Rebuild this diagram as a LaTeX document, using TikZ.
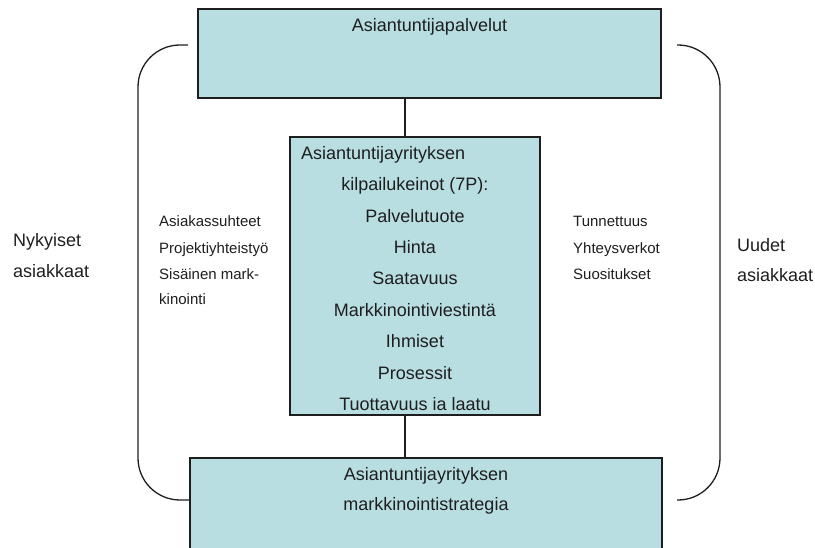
\documentclass[tikz,border=0pt]{standalone}
\usepackage{fontspec}
\setmainfont{Liberation Sans}
\definecolor{boxfill}{RGB}{184,222,225}
\definecolor{ink}{RGB}{30,30,30}
\begin{document}
\begin{tikzpicture}[x=1pt,y=-1pt,
  box/.style={draw=ink,line width=2pt,fill=boxfill,inner sep=0pt},
  big/.style={font=\fontsize{18}{20}\selectfont,text=ink,inner sep=0pt,anchor=base},
  bigw/.style={big,anchor=base west},
  small/.style={font=\fontsize{15}{17}\selectfont,text=ink,inner sep=0pt,anchor=base west},
  link/.style={draw=ink,line width=1.8pt},
  brace/.style={draw=ink,line width=1.3pt,rounded corners=42pt}]
\useasboundingbox (0,0) rectangle (815,548);
\clip (0,0) rectangle (815,548);
% boxes
\node[box,minimum width=463pt,minimum height=89pt] (top) at (429.5,53.5) {};
\node[box,minimum width=250pt,minimum height=278pt] (mid) at (415,276) {};
\node[box,minimum width=472pt,minimum height=94pt] (bot) at (426,505) {};
% connectors
\coordinate (cx) at (405,0);
\draw[link] (top.south -| cx) -- (mid.north -| cx);
\draw[link] (mid.south -| cx) -- (bot.north -| cx);
% braces
\draw[brace] (188,45) -- (138,45) -- (138,500) -- (189,500);
\draw[brace] (677,45) -- (720,45) -- (720,500) -- (677,500);
% top text
\node[big] (t0) at (429.5,32) {Asiantuntijapalvelut};
% middle texts
\node[bigw] (m1) at (301,159.5) {Asiantuntijayrityksen};
\node[big] (m2) at (415,191) {kilpailukeinot (7P):};
\node[big] (m3) at (415,222.5) {Palvelutuote};
\node[big] (m4) at (415,253.5) {Hinta};
\node[big] (m5) at (415,285) {Saatavuus};
\node[big] (m6) at (415,316.5) {Markkinointiviestintä};
\node[big] (m7) at (415,348) {Ihmiset};
\node[big] (m8) at (415,379.5) {Prosessit};
\node[big] (m9) at (415,410.5) {Tuottavuus ia laatu};
% bottom text
\node[big] (b1) at (426,480) {Asiantuntijayrityksen};
\node[big] (b2) at (426,510) {markkinointistrategia};
% side labels
\node[bigw] (n1) at (13,247) {Nykyiset};
\node[bigw] (n2) at (13,278) {asiakkaat};
\node[bigw] (u1) at (737,252) {Uudet};
\node[bigw] (u2) at (737,282) {asiakkaat};
% left small texts
\node[small] (s1) at (159,227) {Asiakassuhteet};
\node[small] (s2) at (159,254) {Projektiyhteistyö};
\node[small] (s3) at (159,280) {Sisäinen mark-};
\node[small] (s4) at (159,305) {kinointi};
% right small texts
\node[small] (r1) at (573,227) {Tunnettuus};
\node[small] (r2) at (573,254) {Yhteysverkot};
\node[small] (r3) at (573,280) {Suositukset};
\end{tikzpicture}
\end{document}
